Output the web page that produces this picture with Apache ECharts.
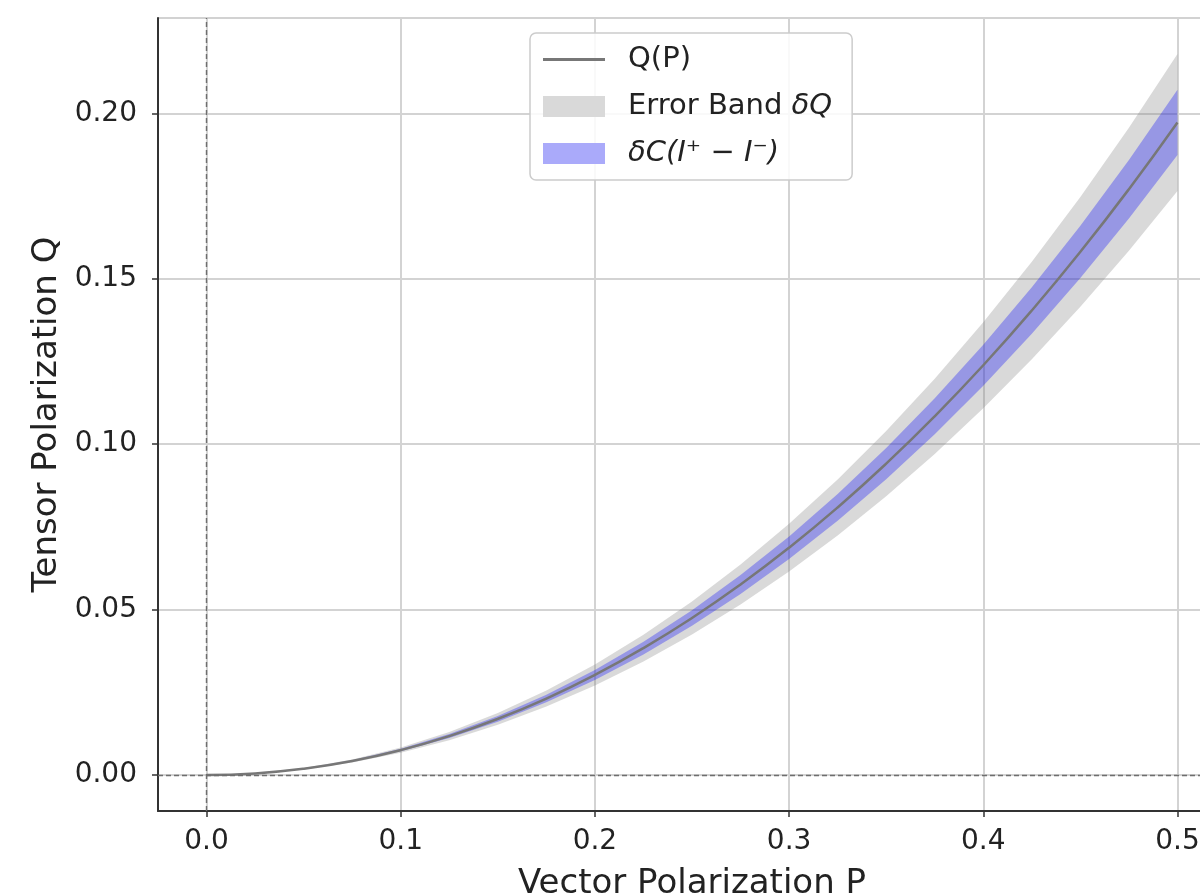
<!DOCTYPE html>
<html>
<head>
<meta charset="utf-8">
<script src="https://cdn.jsdelivr.net/npm/echarts@6/dist/echarts.min.js"></script>
<style>
html,body{margin:0;padding:0;background:#fff;}
#main{width:1200px;height:894px;}
</style>
</head>
<body>
<div id="main"></div>
<script>
// Vector polarization P (x values)
const P = [0, 0.025, 0.05, 0.075, 0.1, 0.125, 0.15, 0.175, 0.2, 0.225, 0.25, 0.275, 0.3, 0.325, 0.35, 0.375, 0.4, 0.425, 0.45, 0.475, 0.5];
// Tensor polarization Q(P)
const Q = [0, 0.00047, 0.00188, 0.00422, 0.00751, 0.01175, 0.01695, 0.0231, 0.03023, 0.03834, 0.04744, 0.05755, 0.06868, 0.08085, 0.09409, 0.10841, 0.12383, 0.1404, 0.15813, 0.17706, 0.19722];
// Error band dQ (lower / upper)
const errLow = [0, 0.00042, 0.00168, 0.00378, 0.00673, 0.01052, 0.01517, 0.02068, 0.02705, 0.03431, 0.04246, 0.05151, 0.06147, 0.07236, 0.08421, 0.09702, 0.11083, 0.12566, 0.14152, 0.15847, 0.17652];
const errHigh = [0, 0.00052, 0.00207, 0.00467, 0.0083, 0.01299, 0.01873, 0.02553, 0.0334, 0.04236, 0.05242, 0.06359, 0.07589, 0.08934, 0.10397, 0.11979, 0.13684, 0.15514, 0.17473, 0.19565, 0.21793];
// dC(I+ - I-) band (lower / upper)
const cLow = [0, 0.00045, 0.00178, 0.00401, 0.00714, 0.01117, 0.0161, 0.02195, 0.02872, 0.03642, 0.04507, 0.05467, 0.06525, 0.07681, 0.08938, 0.10299, 0.11764, 0.13338, 0.15022, 0.1682, 0.18736];
const cHigh = [0, 0.00049, 0.00197, 0.00443, 0.00789, 0.01234, 0.01779, 0.02426, 0.03174, 0.04025, 0.04981, 0.06042, 0.07211, 0.0849, 0.09879, 0.11383, 0.13003, 0.14742, 0.16603, 0.18591, 0.20709];
// Tick labels
const xTicks = [0, 0.1, 0.2, 0.3, 0.4, 0.5];
const yTicks = [0, 0.05, 0.1, 0.15, 0.2];

const NAME_Q = 'Q(P)';
const NAME_ERR = 'Error Band δQ';
const NAME_C = 'δC(I⁺ − I⁻)';

const FONT = 'DejaVu Sans';
const pair = (ys) => P.map((x, i) => [x, ys[i]]);
const bandRows = (lo, hi) => P.map((x, i) => [x, lo[i], hi[i]]);

function bandRenderer(color) {
  return function (params, api) {
    if (params.dataIndex !== 0) return null;
    const upper = [], lower = [];
    for (let i = 0; i < P.length; i++) {
      const x = api.value(0, i), lo = api.value(1, i), hi = api.value(2, i);
      upper.push(api.coord([x, hi]));
      lower.push(api.coord([x, lo]));
    }
    return {
      type: 'polygon',
      shape: { points: upper.concat(lower.reverse()) },
      style: { fill: color, stroke: null },
      silent: true
    };
  };
}

const chart = echarts.init(document.getElementById('main'), null, {renderer: 'canvas'});
chart.setOption({
  backgroundColor: '#ffffff',
  animation: false,
  grid: {
    left: 158, top: 18, width: 1068, height: 793,
    outerBoundsMode: 'none', containLabel: false,
    show: true, borderColor: '#c4c4c4', borderWidth: 1.5, backgroundColor: 'transparent'
  },
  legend: {
    left: 530, top: 33,
    orient: 'vertical',
    itemWidth: 62, itemHeight: 21, itemGap: 18,
    symbolKeepAspect: true,
    padding: [12, 20, 12, 13],
    backgroundColor: 'rgba(255,255,255,0.85)',
    borderColor: '#cccccc', borderWidth: 1.5, borderRadius: 6,
    textStyle: {
      fontFamily: FONT, fontSize: 29, color: '#222', lineHeight: 28,
      padding: [0, 0, 0, 18],
      rich: { i: { fontStyle: 'italic', fontFamily: FONT, fontSize: 29, color: '#222' } }
    },
    formatter: function (name) {
      if (name === NAME_ERR) return 'Error Band {i|δQ}';
      if (name === NAME_C) return '{i|' + name + '}';
      return name;
    },
    data: [
      { name: NAME_Q, icon: 'path://M0,0 H62 V3 H0 Z', itemStyle: { color: '#777777', borderWidth: 0 } },
      { name: NAME_ERR, icon: 'rect', itemStyle: { color: 'rgb(217,217,217)', borderWidth: 0 } },
      { name: NAME_C, icon: 'rect', itemStyle: { color: 'rgb(170,170,250)', borderWidth: 0 } }
    ]
  },
  xAxis: {
    type: 'value', min: -0.025, max: 0.525,
    name: 'Vector Polarization P', nameLocation: 'middle', nameGap: 56,
    nameTextStyle: { fontFamily: FONT, fontSize: 34, color: '#222' },
    axisLine: { show: true, onZero: false, lineStyle: { color: '#333', width: 2 } },
    axisTick: { show: true, inside: false, length: 6, customValues: xTicks, lineStyle: { color: '#333', width: 1.5 } },
    axisLabel: {
      customValues: xTicks,
      margin: 17, fontFamily: FONT, fontSize: 28, color: '#222',
      formatter: v => v.toFixed(1)
    },
    splitLine: { show: true, lineStyle: { color: '#d3d3d3', width: 2 } }
  },
  yAxis: {
    type: 'value', min: -0.0109, max: 0.2288,
    name: 'Tensor Polarization Q', nameLocation: 'middle', nameGap: 84,
    nameTextStyle: { fontFamily: FONT, fontSize: 34, color: '#222' },
    axisLine: { show: true, onZero: false, lineStyle: { color: '#333', width: 2 } },
    axisTick: { show: true, inside: false, length: 6, customValues: yTicks, lineStyle: { color: '#333', width: 1.5 } },
    axisLabel: {
      customValues: yTicks,
      margin: 21, fontFamily: FONT, fontSize: 28, color: '#222',
      formatter: v => v.toFixed(2)
    },
    splitLine: { show: true, lineStyle: { color: '#d3d3d3', width: 2 } }
  },
  series: [
    {
      name: 'axes0', type: 'line', data: [], silent: true, z: 1,
      markLine: {
        silent: true, symbol: 'none', label: { show: false },
        lineStyle: { type: [5, 3], color: '#6e6e6e', width: 1.4 },
        data: [{ xAxis: 0 }, { yAxis: 0 }]
      }
    },
    {
      name: NAME_ERR, type: 'custom', data: bandRows(errLow, errHigh),
      encode: { x: 0, y: [1, 2] },
      itemStyle: { color: 'rgb(217,217,217)' },
      renderItem: bandRenderer('rgba(128,128,128,0.3)'), z: 2, silent: true
    },
    {
      name: NAME_C, type: 'custom', data: bandRows(cLow, cHigh),
      encode: { x: 0, y: [1, 2] },
      itemStyle: { color: 'rgb(170,170,250)' },
      renderItem: bandRenderer('rgba(0,0,255,0.3)'), z: 3, silent: true
    },
    {
      name: NAME_Q, type: 'line', data: pair(Q), smooth: true,
      showSymbol: false, symbol: 'none',
      lineStyle: { color: '#777777', width: 2.5 }, itemStyle: { color: '#777777' }, z: 4
    }
  ]
});
</script>
</body>
</html>
